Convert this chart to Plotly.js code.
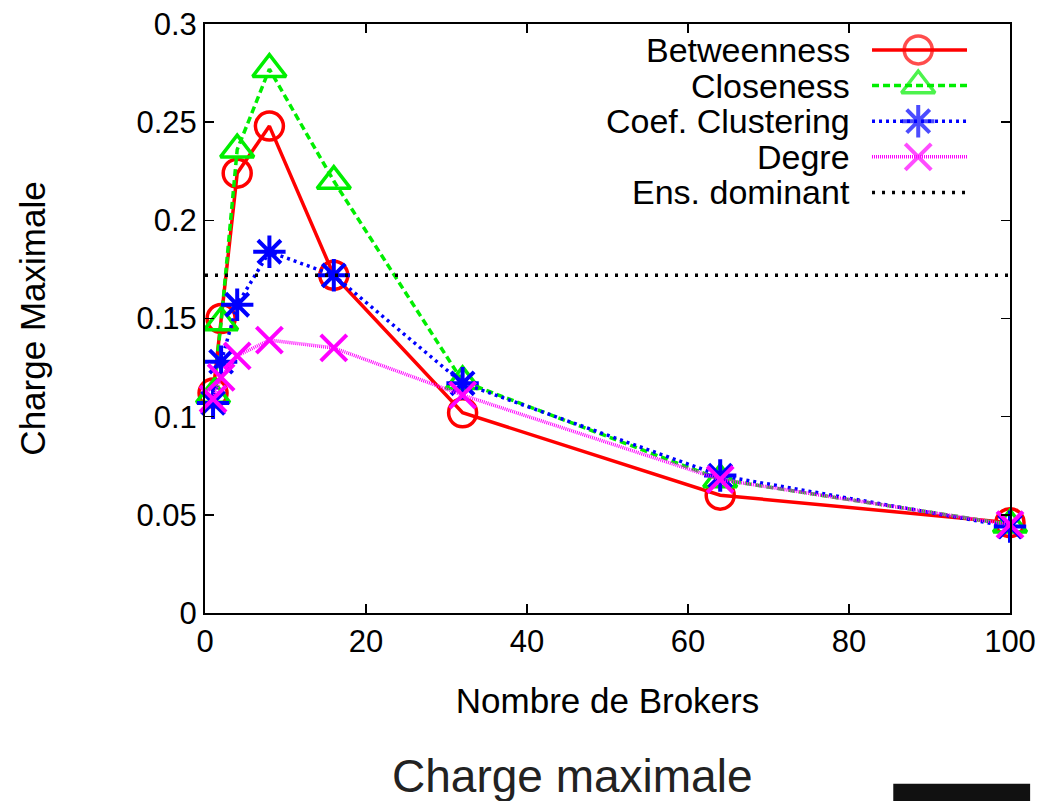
<!DOCTYPE html>
<html>
<head>
<meta charset="utf-8">
<script src="https://cdn.plot.ly/plotly-3.0.1.min.js"></script>
<style>html,body{margin:0;padding:0;background:#fff;}#chart{width:1059px;height:801px;}</style>
</head>
<body>
<div id="chart"></div>
<script>
// ---- data ----
const brokers = [1, 2, 4, 8, 16, 32, 64, 100];
const betweenness = [0.112, 0.150, 0.224, 0.248, 0.172, 0.102, 0.060, 0.046];
const closeness   = [0.111, 0.148, 0.236, 0.277, 0.220, 0.118, 0.068, 0.045];
const clustering  = [0.107, 0.128, 0.157, 0.184, 0.172, 0.117, 0.070, 0.044];
const degre       = [0.109, 0.120, 0.131, 0.139, 0.135, 0.111, 0.068, 0.045];
const ensDominantX = [0, 100];
const ensDominantY = [0.172, 0.172];
const seriesNames = ["Betweenness", "Closeness", "Coef. Clustering", "Degre", "Ens. dominant"];
const xTitle = "Nombre de Brokers";
const yTitle = "Charge Maximale";
const captionText = "Charge maximale";

// ---- styles ----
const FONT = "Liberation Sans, Arial, sans-serif";
const styles = [
  {color: "#ff0000", dash: "solid", width: 3.5, symbol: "circle-open", size: 28, mlw: 3.5},
  {color: "#00ee00", dash: "7px,4px", width: 3.5, symbol: "triangle-up-open", size: 29, mlw: 3.5},
  {color: "#0000ff", dash: "3px,4px", width: 3.5, symbol: "asterisk-open", size: 27, mlw: 4},
  {color: "#ff00ff", dash: "1px,1px", width: 3.5, symbol: "x-thin-open", size: 26, mlw: 4},
  {color: "#000000", dash: "3px,7px", width: 3.5, symbol: null}
];
const seriesY = [betweenness, closeness, clustering, degre];

const traces = [];
seriesY.forEach((ys, i) => {
  const s = styles[i];
  traces.push({
    x: brokers, y: ys, type: "scatter", mode: "lines+markers", name: seriesNames[i],
    line: {color: s.color, dash: s.dash, width: s.width},
    marker: {symbol: s.symbol, size: s.size, color: s.color, line: {color: s.color, width: s.mlw}},
    cliponaxis: false, showlegend: false
  });
});
traces.push({
  x: ensDominantX, y: ensDominantY, type: "scatter", mode: "lines", name: seriesNames[4],
  line: {color: "#000", dash: styles[4].dash, width: styles[4].width}, showlegend: false
});

// ---- custom legend (symbol on the right, text right-aligned) ----
const legX0 = 0.8286, legX1 = 0.9466, legXm = 0.886, legTextX = 0.803;
const legTop = 0.956, legStep = 0.0605;
const annotations = [];
seriesNames.forEach((n, i) => {
  const s = styles[i];
  const y = legTop - i * legStep;
  const t = {
    x: [legX0, legXm, legX1], y: [y, y, y], xaxis: "x2", yaxis: "y2",
    type: "scatter", mode: "lines", showlegend: false, hoverinfo: "skip",
    line: {color: s.color, dash: s.dash, width: s.width},
    cliponaxis: false
  };
  if (s.symbol) {
    t.mode = "lines+markers";
    t.marker = {symbol: s.symbol, size: [0, s.size, 0], color: s.color, line: {color: s.color, width: s.mlw}};
  }
  traces.push(t);
  annotations.push({
    text: n, xref: "paper", yref: "paper", x: legTextX, y: y, xanchor: "right", yanchor: "middle",
    showarrow: false, borderpad: 0, font: {family: FONT, size: 34, color: "#000"}
  });
});
annotations.push({
  text: captionText, xref: "paper", yref: "paper", x: 0.456, y: -0.276, xanchor: "center", yanchor: "middle",
  showarrow: false, font: {family: FONT, size: 46, color: "#222"}
});

const axisCommon = {
  showline: true, linecolor: "#000", linewidth: 2, mirror: "ticks", ticks: "inside", ticklen: 9,
  tickwidth: 1.5, tickcolor: "#000", showgrid: false, zeroline: false,
  tickfont: {family: FONT, size: 31, color: "#000"}
};

const layout = {
  width: 1059, height: 801,
  margin: {l: 205, r: 49, t: 24, b: 188},
  paper_bgcolor: "#fff", plot_bgcolor: "#fff",
  showlegend: false,
  xaxis: Object.assign({}, axisCommon, {
    range: [0, 100], dtick: 20, tick0: 0,
    title: {text: xTitle, font: {family: FONT, size: 35, color: "#000"}, standoff: 30}
  }),
  yaxis: Object.assign({}, axisCommon, {
    range: [0, 0.3], dtick: 0.05, tick0: 0,
    title: {text: yTitle, font: {family: FONT, size: 35, color: "#000"}, standoff: 80}
  }),
  xaxis2: {overlaying: "x", range: [0, 1], visible: false, fixedrange: true},
  yaxis2: {overlaying: "y", range: [0, 1], visible: false, fixedrange: true},
  annotations: annotations,
  shapes: [{type: "rect", xref: "paper", yref: "paper", x0: 0.855, x1: 1.025, y0: -0.325, y1: -0.29,
            fillcolor: "#111", line: {width: 0}}]
};

Plotly.newPlot("chart", traces, layout, {displayModeBar: false, staticPlot: true});
</script>
</body>
</html>
